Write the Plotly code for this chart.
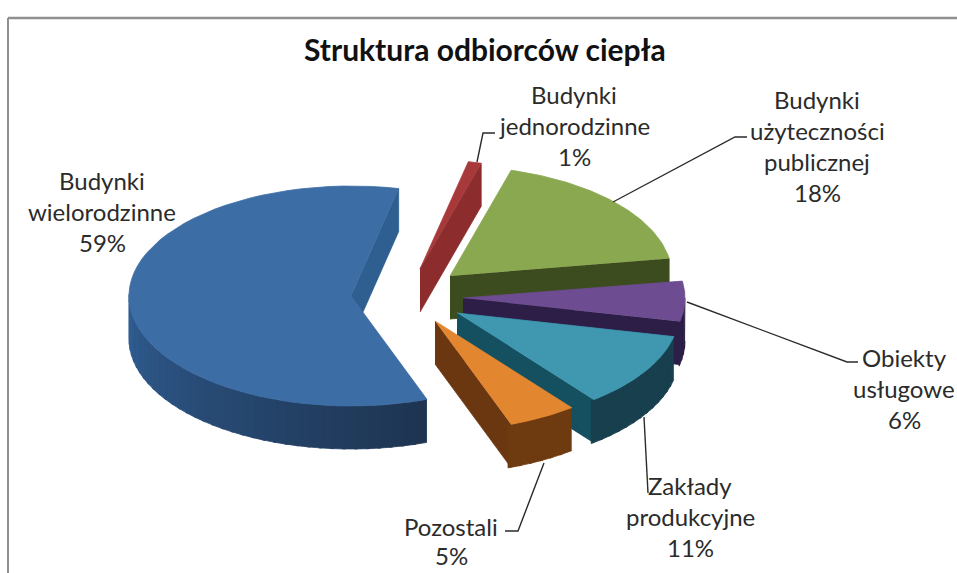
import numpy as np
import plotly.graph_objects as go

# --- data ---
categories = ["Budynki wielorodzinne", "Budynki jednorodzinne",
              "Budynki użyteczności publicznej", "Obiekty usługowe",
              "Zakłady produkcyjne", "Pozostali"]
values = [59, 1, 18, 6, 11, 5]
label_lines = [["Budynki", "wielorodzinne", "59%"],
               ["Budynki", "jednorodzinne", "1%"],
               ["Budynki", "użyteczności", "publicznej", "18%"],
               ["Obiekty", "usługowe", "6%"],
               ["Zakłady", "produkcyjne", "11%"],
               ["Pozostali", "5%"]]
title = "Struktura odbiorców ciepła"

# --- projection / style ---
START = 160.0
RX, RY, DEPTH = 222.0, 110.0, 43.0
apex_x = [351, 420, 450, 463, 457, 435]
apex_y = [296, 269, 276, 298, 313, 321]
top_col = ["#3d6da5", "#a8393a", "#8aa84f", "#6d4c92", "#3f97b0", "#e2872f"]
edge_col = ["#2f5f90", "#8c2c2c", "#3d4c1e", "#2c1e47", "#14505f", "#6b3710"]
wall_a = ["#2f5d92", "#8c2c2c", "#3d4c1e", "#2c1e47", "#173f4d", "#6e3a10"]
wall_b = ["#1e3451", "#8c2c2c", "#3d4c1e", "#241a3c", "#173f4d", "#6e3a10"]
label_x = [102, 574, 817, 904, 690, 451]
label_y = [211, 125, 146, 388, 516, 541]
label_dy = 31
leader_x = [[477, 483, 495], [613, 735, 747], [687, 847, 858], [644, 648], [544, 518, 505]]
leader_y = [[162, 133, 133], [202, 137, 137], [302, 362, 362], [417, 493], [463, 531, 531]]


def arc(i, a, b, n):
    t = np.radians(np.linspace(a, b, n))
    return apex_x[i] + RX * np.sin(t), apex_y[i] - RY * np.cos(t)


def mix(c1, c2, f):
    p = [int(c1[k:k + 2], 16) for k in (1, 3, 5)]
    q = [int(c2[k:k + 2], 16) for k in (1, 3, 5)]
    return "rgb(%d,%d,%d)" % tuple(round(u + (v - u) * f) for u, v in zip(p, q))


def poly(fig, x, y, color):
    fig.add_trace(go.Scatter(x=list(x), y=list(y), mode="lines", fill="toself",
                             fillcolor=color, line=dict(color=color, width=0.8),
                             hoverinfo="skip", showlegend=False))


fig = go.Figure()
angle = START
for i, v in enumerate(values):
    a0, a1 = angle, angle + v * 3.6
    angle = a1 % 360
    # radial wall at the clockwise end of the slice
    ex, ey = arc(i, a1, a1, 1)
    poly(fig, [apex_x[i], ex[0], ex[0], apex_x[i]],
         [apex_y[i], ey[0], ey[0] + DEPTH, apex_y[i] + DEPTH], edge_col[i])
    # front rim, in strips for the shading
    lo = max(a0, 90.0)
    hi = min(a1, 270.0)
    if hi > lo:
        n = max(2, int((hi - lo) / 3))
        edges = np.linspace(lo, hi, n + 1)
        for k in range(n):
            sx, sy = arc(i, edges[k], edges[k + 1] + 0.8, 5)
            poly(fig, np.r_[sx, sx[::-1]], np.r_[sy, sy[::-1] + DEPTH],
                 mix(wall_b[i], wall_a[i], k / max(n - 1, 1)))
    # top face
    tx, ty = arc(i, a0, a1, 60)
    poly(fig, np.r_[apex_x[i], tx], np.r_[apex_y[i], ty], top_col[i])

shapes = [dict(type="line", x0=8, x1=957, y0=18, y1=18, line=dict(color="#8f8f8f", width=2.5)),
          dict(type="line", x0=8, x1=8, y0=18, y1=573, line=dict(color="#8f8f8f", width=2))]

for lx, ly in zip(leader_x, leader_y):
    fig.add_trace(go.Scatter(x=lx, y=ly, mode="lines", line=dict(color="#2b2b2b", width=1.4),
                             hoverinfo="skip", showlegend=False))

annotations = [dict(x=485, y=49, text="<b>%s</b>" % title, showarrow=False,
                    font=dict(family="Lato", size=30, color="#111111"))]
for i, lines in enumerate(label_lines):
    dy = label_dy if i != 5 else 29
    for j, line in enumerate(lines):
        annotations.append(dict(x=label_x[i], y=label_y[i] + (j - (len(lines) - 1) / 2) * dy,
                                text=line, showarrow=False,
                                font=dict(family="Lato", size=24, color="#2b2b2b")))

fig.update_layout(
    width=957, height=573, margin=dict(l=0, r=0, t=0, b=0),
    paper_bgcolor="white", plot_bgcolor="white", showlegend=False,
    xaxis=dict(range=[0, 957], visible=False, fixedrange=True),
    yaxis=dict(range=[573, 0], visible=False, fixedrange=True),
    shapes=shapes, annotations=annotations,
)
fig.write_html("out.html", config=dict(displayModeBar=False),
               post_script="document.body.style.margin='0';document.body.style.overflow='hidden';")
